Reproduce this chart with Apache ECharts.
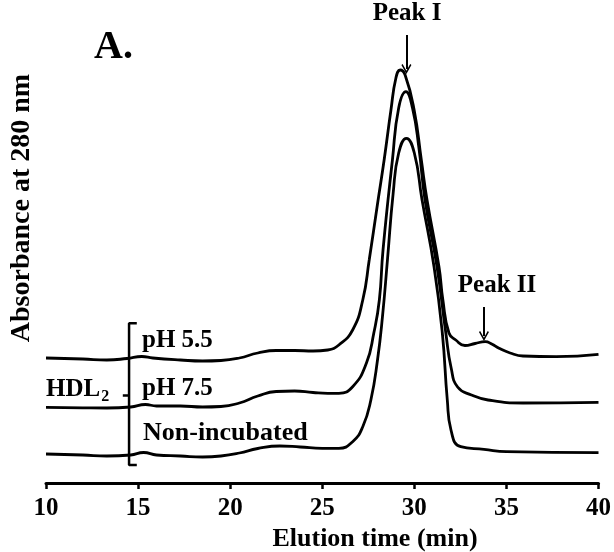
<!DOCTYPE html>
<html>
<head>
<meta charset="utf-8">
<script src="https://cdn.jsdelivr.net/npm/echarts@6/dist/echarts.min.js"></script>
<style>
  html, body { margin: 0; padding: 0; background: #fff; }
  #chart { width: 614px; height: 552px; }
</style>
</head>
<body>
<div id="chart"></div>
<script>
// elution time (min) and absorbance (arbitrary units, traces offset as in the figure)
const timePH55 = [10, 12, 13.3, 14.4, 15.2, 15.8, 17.3, 18.5, 19.5, 20.5, 21.5, 22.5, 23.5, 24.5, 25.3, 25.9, 26.65, 27.2, 27.55, 28.0, 28.36, 28.73, 29.0, 29.23, 29.5, 29.99, 30.38, 30.69, 31.34, 31.55, 31.88, 32.25, 32.75, 33.3, 33.85, 34.2, 34.6, 35.2, 35.9, 37.7, 40];
const absPH55 = [1.25, 1.24, 1.23, 1.245, 1.265, 1.25, 1.23, 1.22, 1.225, 1.25, 1.30, 1.325, 1.325, 1.32, 1.33, 1.38, 1.53, 1.83, 2.23, 2.79, 3.23, 3.73, 4.05, 4.13, 4.08, 3.73, 3.23, 2.83, 2.16, 1.83, 1.50, 1.43, 1.375, 1.395, 1.413, 1.39, 1.347, 1.30, 1.27, 1.263, 1.287];

const timePH75 = [10, 12, 13.3, 14.6, 15.4, 16.0, 17.3, 18.5, 19.5, 20.5, 21.5, 22.5, 23.5, 24.5, 25.3, 25.9, 26.65, 27.4, 27.8, 28.1, 28.3, 28.81, 29.15, 29.54, 29.9, 30.25, 30.58, 31.23, 31.71, 32.0, 32.35, 33.1, 34.0, 35.9, 40];
const absPH75 = [0.757, 0.752, 0.75, 0.76, 0.785, 0.77, 0.77, 0.76, 0.765, 0.80, 0.87, 0.915, 0.92, 0.905, 0.897, 0.897, 0.963, 1.20, 1.50, 1.83, 2.33, 3.23, 3.75, 3.913, 3.75, 3.35, 2.83, 2.163, 1.50, 1.15, 0.96, 0.88, 0.83, 0.80, 0.807];

const timeNonInc = [10, 12, 13.3, 14.6, 15.3, 16.0, 17.3, 18.5, 19.5, 20.5, 21.5, 22.7, 23.8, 25.0, 25.9, 26.65, 27.2, 27.64, 28.0, 28.27, 28.54, 28.85, 29.15, 29.57, 30.0, 30.42, 31.07, 31.52, 31.79, 31.99, 32.52, 33.78, 35.0, 40];
const absNonInc = [0.29, 0.28, 0.27, 0.28, 0.305, 0.28, 0.27, 0.26, 0.27, 0.30, 0.345, 0.37, 0.36, 0.347, 0.347, 0.413, 0.563, 0.83, 1.23, 1.663, 2.23, 2.897, 3.30, 3.447, 3.30, 2.83, 2.163, 1.50, 0.83, 0.53, 0.363, 0.337, 0.313, 0.303];

// HDL2 bracket and arrows, in axis units
const bracketX = [14.93, 14.51, 14.51, 14.93];
const bracketY = [1.597, 1.597, 0.18, 0.18];
const bracketTick = [[14.17, 0.875], [14.51, 0.875]];
const peakIArrow = [[29.57, 4.48], [29.57, 4.14]];
const peakIIArrow = [[33.78, 1.76], [33.78, 1.47]];

const xTicks = { min: 10, max: 40, interval: 5 };

const zip = (xs, ys) => xs.map((x, i) => [x, ys[i]]);

const FONT = "Liberation Serif";
const chevron = "path://M5,0 L10,8.5 L8.8,9.5 L5,3 L1.2,9.5 L0,8.5 Z";

const chart = echarts.init(document.getElementById("chart"));

const lineSeries = (name, data) => ({
    name: name,
    type: "line",
    data: data,
    smooth: 0.5,
    showSymbol: false,
    lineStyle: { color: "#000", width: 2.8 },
    silent: true,
});

const option = {
    animation: false,
    grid: { left: 46, right: 14, top: 0, bottom: 69 },
    xAxis: {
        type: "value",
        min: xTicks.min,
        max: xTicks.max,
        interval: xTicks.interval,
        axisLine: { lineStyle: { color: "#000", width: 3 } },
        axisTick: { length: 6, lineStyle: { color: "#000", width: 2.5 } },
        axisLabel: {
            color: "#000",
            fontFamily: FONT,
            fontWeight: "bold",
            fontSize: 25,
            margin: 13,
        },
        splitLine: { show: false },
    },
    yAxis: { type: "value", min: 0, max: 4.83, show: false },
    series: [
        lineSeries("pH 5.5", zip(timePH55, absPH55)),
        lineSeries("pH 7.5", zip(timePH75, absPH75)),
        lineSeries("Non-incubated", zip(timeNonInc, absNonInc)),
        {
            name: "bracket",
            type: "line",
            data: zip(bracketX, bracketY),
            showSymbol: false,
            lineStyle: { color: "#000", width: 2.5 },
            silent: true,
            markLine: {
                silent: true,
                symbol: ["none", "none"],
                label: { show: false },
                lineStyle: { color: "#000", width: 2.5, type: "solid" },
                data: [[{ coord: bracketTick[0] }, { coord: bracketTick[1] }]],
            },
        },
        {
            name: "arrows",
            type: "line",
            data: [],
            markLine: {
                silent: true,
                symbol: ["none", chevron],
                symbolSize: [10, 10],
                label: { show: false },
                lineStyle: { color: "#000", width: 2, type: "solid" },
                data: [
                    [{ coord: peakIArrow[0] }, { coord: peakIArrow[1] }],
                    [{ coord: peakIIArrow[0] }, { coord: peakIIArrow[1] }],
                ],
            },
        },
    ],
    graphic: [
        { type: "text", left: 94, top: 28, style: { text: "A.", font: `bold 40px "${FONT}"`, fill: "#000" } },
        { type: "text", x: 407, y: 14, style: { text: "Peak I", font: `bold 25px "${FONT}"`, fill: "#000", textAlign: "center", textVerticalAlign: "middle" } },
        { type: "text", x: 497, y: 286, style: { text: "Peak II", font: `bold 25px "${FONT}"`, fill: "#000", textAlign: "center", textVerticalAlign: "middle" } },
        { type: "text", x: 142, y: 341, style: { text: "pH 5.5", font: `bold 25px "${FONT}"`, fill: "#000", textAlign: "left", textVerticalAlign: "middle" } },
        { type: "text", x: 142, y: 389, style: { text: "pH 7.5", font: `bold 25px "${FONT}"`, fill: "#000", textAlign: "left", textVerticalAlign: "middle" } },
        { type: "text", x: 143, y: 433, style: { text: "Non-incubated", font: `bold 26px "${FONT}"`, fill: "#000", textAlign: "left", textVerticalAlign: "middle" } },
        {
            type: "text", x: 46, y: 390,
            style: {
                text: "HDL{sub|2}",
                font: `bold 25px "${FONT}"`,
                fill: "#000",
                textAlign: "left",
                textVerticalAlign: "middle",
                rich: { sub: { fontFamily: FONT, fontWeight: "bold", fontSize: 16, padding: [14, 0, 0, 1] } },
            },
        },
        {
            type: "text", x: 22, y: 208, rotation: Math.PI / 2,
            style: { text: "Absorbance at 280 nm", font: `bold 28px "${FONT}"`, fill: "#000", textAlign: "center", textVerticalAlign: "middle" },
        },
        { type: "text", x: 375, y: 539, style: { text: "Elution time (min)", font: `bold 26px "${FONT}"`, fill: "#000", textAlign: "center", textVerticalAlign: "middle" } },
    ],
};

chart.setOption(option);
</script>
</body>
</html>
